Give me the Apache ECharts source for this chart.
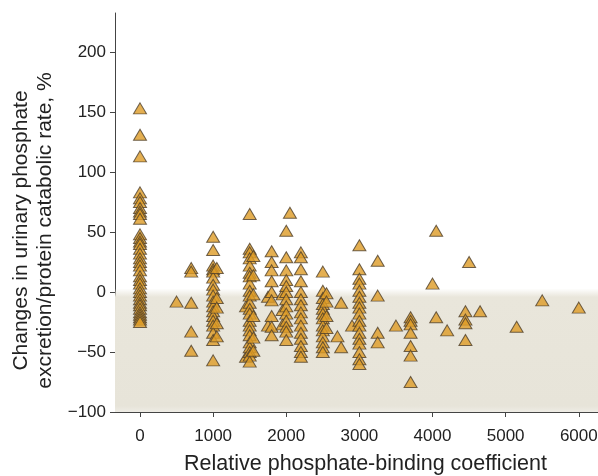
<!DOCTYPE html>
<html>
<head>
<meta charset="utf-8">
<script src="https://cdn.jsdelivr.net/npm/echarts@6/dist/echarts.min.js"></script>
<style>
  html, body { margin: 0; padding: 0; background: #fff; }
  #chart { width: 598px; height: 476px; }
</style>
</head>
<body>
<div id="chart"></div>
<script>
// Relative phosphate-binding coefficient of each group of measurements
const bindingCoefficient = [
  0, 500, 700, 1000, 1050, 1450, 1500, 1550, 1750, 1800, 1950, 2000, 2050,
  2200, 2500, 2550, 2700, 2750, 2900, 3000, 3250, 3500, 3700, 4000, 4050,
  4200, 4450, 4500, 4650, 5150, 5500, 6000
];

// Changes in urinary phosphate excretion / protein catabolic rate (%) at each coefficient
const phosphateChange = [
  [153, 131, 113, 83, 78, 75, 70, 67, 65, 61, 48, 45, 42, 40, 36, 32, 28, 25, 22, 18,
   13, 10, 7, 3, 0, -3, -6, -9, -11, -14, -17, -19, -21, -23, -25],
  [-8],
  [20, 17, -9, -33, -49],
  [46, 35, 22, 19, 17, 12, 6, 2, -3, -8, -12, -16, -20, -24, -28, -34, -40, -57],
  [20, -5, -13, -26, -37],
  [-12, -54],
  [65, 36, 33, 28, 22, 16, 13, 7, 1, -3, -9, -14, -18, -24, -28, -32, -36, -42, -46, -50, -53, -58],
  [30, 14, -2, -20, -38, -49],
  [-4, -28],
  [34, 25, 18, 9, 0, -7, -20, -29, -36],
  [-2, -15, -27],
  [51, 29, 18, 10, 5, 0, -6, -12, -18, -24, -29, -33, -40],
  [66],
  [33, 29, 19, 9, 0, -6, -11, -17, -22, -28, -34, -39, -45, -50, -54],
  [17, 1, -5, -10, -14, -18, -22, -28, -32, -37, -42, -46, -50],
  [-1, -8, -20, -30],
  [-37],
  [-9, -46],
  [-28],
  [39, 19, 11, 7, 1, -4, -9, -13, -18, -24, -28, -34, -39, -43, -50, -56, -60],
  [26, -3, -34, -42],
  [-28],
  [-21, -24, -27, -34, -45, -53, -75],
  [7],
  [51, -21],
  [-32],
  [-16, -23, -26, -40],
  [25],
  [-16],
  [-29],
  [-7],
  [-13]
];

const xTickValues = [0, 1000, 2000, 3000, 4000, 5000, 6000];
const yTickValues = [-100, -50, 0, 50, 100, 150, 200];

const points = [];
bindingCoefficient.forEach(function (x, i) {
  phosphateChange[i].forEach(function (y) { points.push([x, y]); });
});

const axisText = { color: '#222', fontFamily: 'Liberation Sans, Arial, sans-serif' };
const plain = function (v) { return String(v).replace('-', '\u2212'); };

const chart = echarts.init(document.getElementById('chart'), null, { renderer: 'canvas' });
chart.setOption({
  animation: false,
  backgroundColor: '#fff',
  grid: { left: 115, right: -2, top: 13, bottom: 64, containLabel: false, outerBoundsMode: 'none' },
  xAxis: {
    type: 'value',
    min: -342,
    max: 6290,
    name: 'Relative phosphate-binding coefficient',
    nameLocation: 'middle',
    nameGap: 41,
    nameTextStyle: Object.assign({ fontSize: 21.5, padding: [0, 0, 0, 16] }, axisText),
    axisLine: { show: true, onZero: false, lineStyle: { color: '#444', width: 1 } },
    axisTick: { show: true, length: 5, customValues: xTickValues, lineStyle: { color: '#444' } },
    axisLabel: Object.assign({ fontSize: 17, margin: 16, customValues: xTickValues, formatter: plain }, axisText),
    splitLine: { show: false }
  },
  yAxis: {
    type: 'value',
    min: -100,
    max: 232.5,
    name: 'Changes in urinary phosphate\nexcretion/protein catabolic rate, %',
    nameLocation: 'middle',
    nameGap: 58,
    nameRotate: 90,
    nameTextStyle: Object.assign({ fontSize: 21, lineHeight: 24, padding: [0, 36, 0, 0] }, axisText),
    axisLine: { show: true, onZero: false, lineStyle: { color: '#444', width: 1 } },
    axisTick: { show: true, length: 5, customValues: yTickValues, lineStyle: { color: '#444' } },
    axisLabel: Object.assign({ fontSize: 17, margin: 9, customValues: yTickValues, formatter: plain }, axisText),
    splitLine: { show: false }
  },
  series: [
    {
      // shaded band for decreases (below zero)
      type: 'scatter',
      data: [],
      z: 1,
      silent: true,
      markArea: {
        silent: true,
        itemStyle: {
          color: new echarts.graphic.LinearGradient(0, 0, 0, 1, [
            { offset: 0, color: 'rgba(233,230,219,0)' },
            { offset: 0.07, color: '#e9e6db' },
            { offset: 0.95, color: '#e7e4d9' },
            { offset: 1, color: '#eeece5' }
          ])
        },
        data: [[{ yAxis: -100 }, { yAxis: 3 }]]
      }
    },
    {
      type: 'scatter',
      z: 3,
      symbol: 'triangle',
      symbolSize: [13, 11],
      itemStyle: { color: '#dd9b25', borderColor: '#4d3f2a', borderWidth: 1 },
      data: points
    }
  ]
});
</script>
</body>
</html>
